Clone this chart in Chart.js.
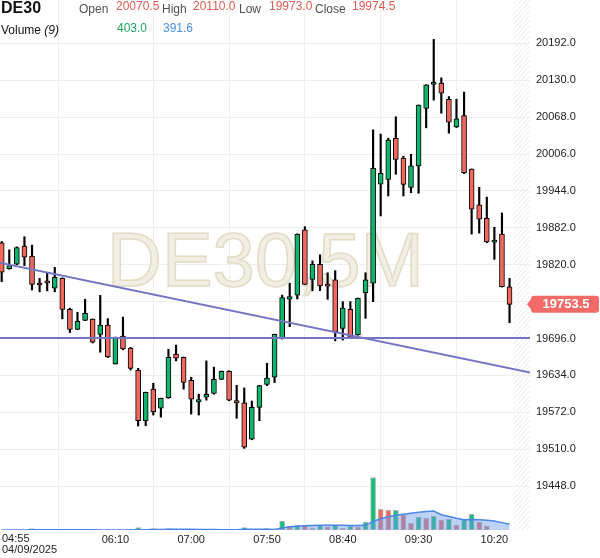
<!DOCTYPE html>
<html><head><meta charset="utf-8">
<script src="https://cdn.jsdelivr.net/npm/chart.js@4.4.1/dist/chart.umd.min.js"></script>
<style>
html,body{margin:0;padding:0;background:#fff;}
#wrap{position:relative;width:600px;height:558px;overflow:hidden;font-family:"Liberation Sans",Arial,sans-serif;}
#c{position:absolute;left:0;top:0;}
.t{position:absolute;white-space:nowrap;font-size:12px;line-height:12px;}
.lbl{color:#505050;top:2.5px;}
.val{top:0px;}
.up{color:#dd5a52;}
</style></head><body>
<div id="wrap">
<canvas id="c" width="600" height="558"></canvas>
<div class="t" style="left:1px;top:-0.5px;font-size:16px;line-height:16px;font-weight:bold;color:#111">DE30</div>
<div class="t lbl" style="left:79px">Open</div>
<div class="t val up" style="left:116px">20070.5</div>
<div class="t lbl" style="left:162px">High</div>
<div class="t val up" style="left:193px">20110.0</div>
<div class="t lbl" style="left:239px">Low</div>
<div class="t val up" style="left:269px">19973.0</div>
<div class="t lbl" style="left:315px">Close</div>
<div class="t val up" style="left:352px">19974.5</div>
<div class="t" style="left:1px;top:24px;color:#111">Volume <i>(9)</i></div>
<div class="t" style="left:117px;top:21.5px;color:#22a35a">403.0</div>
<div class="t" style="left:163px;top:21.5px;color:#4b8fe3">391.6</div>
</div>
<script>
// ---------- data ----------
const times = ['04:55','05:00','05:05','05:10','05:15','05:20','05:25','05:30','05:35','05:40','05:45','05:50','05:55',
 '06:00','06:05','06:10','06:15','06:20','06:25','06:30','06:35','06:40','06:45','06:50','06:55',
 '07:00','07:05','07:10','07:15','07:20','07:25','07:30','07:35','07:40','07:45','07:50','07:55',
 '08:00','08:05','08:10','08:15','08:20','08:25','08:30','08:35','08:40','08:45','08:50','08:55',
 '09:00','09:05','09:10','09:15','09:20','09:25','09:30','09:35','09:40','09:45','09:50','09:55',
 '10:00','10:05','10:10','10:15','10:20','10:25','10:30'];
const opens = [19857,19813.5,19821,19851.5,19834.5,19787,19790,19780.5,19797,19745,
 19711.5,19726.5,19728.5,19703,19718.5,19653.5,19700,19680,19643,19558,
 19611,19579,19596.5,19670,19664.5,19626,19589.5,19597.5,19604,19627.5,
 19641,19592,19588,19527,19580.5,19619,19631,19696.5,19762,19769,
 19878.5,19795.5,19820.5,19784.5,19794.5,19713,19745,19702,19773,19789,
 19955.5,19963.5,20032.5,19999,19950,19986,20082.5,20123,20125,20098,
 20051.5,20070.5,19980.5,19920.5,19898,19858,19871.5,19783];
const highs = [19859,19845,19850,19867,19853,19797,19805.5,19815.5,19798,19747,
 19740,19762,19729,19768.5,19729.5,19698.5,19732,19681,19646,19606,
 19621,19596,19678,19685,19665,19631,19602.5,19658.5,19648,19641.5,
 19642,19617.5,19613,19591,19617.5,19654.5,19703.5,19769,19789,19872,
 19884,19826.5,19836.5,19806.5,19810,19758,19758,19764,19806.5,20046.5,
 20039.5,20032.5,20068.5,20002.5,20005.5,20088.5,20122.5,20198.5,20134,20102.5,
 20098,20110,19981,19950,19933.5,19883,19907,19797];
const lows = [19791.5,19812.5,19820,19818.5,19777.5,19774.5,19776,19774.5,19729,19706,
 19711,19726,19688.5,19673,19664,19653,19677,19643,19549,19549.5,
 19567.5,19564,19595.5,19658.5,19611,19569,19567.5,19592.5,19602.5,19627,
 19591.5,19562,19511.5,19526,19558,19617,19622,19695,19716,19762.5,
 19786.5,19776,19776.5,19762,19692,19693.5,19696.5,19701.5,19730,19758,
 19902,19935.5,19972,19935.5,19941,19940,20050,20096.5,20074.5,20041,
 20050.5,19973,19871.5,19873,19857,19829,19782.5,19722.5];
const closes = [19807.5,19818.5,19849,19832.5,19787,19786,19789.5,19799,19745,19711.5,
 19725,19738.5,19690,19718.5,19665,19698,19678.5,19646,19558,19605.5,
 19573,19595.5,19664.5,19663,19622.5,19594,19593.5,19602.5,19627.5,19641,
 19592.5,19588,19513.5,19580.5,19617,19629.5,19703,19765,19766.5,19871,
 19787,19820.5,19784.5,19784,19707.5,19747,19698,19763.5,19794.5,19982,
 19973.5,20029.5,19997,19955,19986,20088,20122,20126.5,20108,20059.5,
 20065,19974.5,19913.5,19896.5,19858.5,19858,19783,19753.5];
const volumes = [0,0,0,0,50,0,0,0,0,0,
 0,0,0,0,0,0,0,38,88,0,
 50,0,50,0,0,0,0,0,0,0,
 38,0,88,0,0,57,0,342,152,190,
 182,76,190,125,190,68,141,114,304,1995,
 787,749,752,570,266,494,445,521,380,407,
 190,403,597,304,152,0,0,0];
const volumeMA = [0,0,0,0,6,6,6,6,6,6,
 6,6,6,0,0,0,0,4,14,14,
 20,20,25,25,25,25,21,15,15,10,
 14,14,24,24,24,24,20,80,120,145,
 160,168,178,178,180,176,175,170,178,330,
 430,505,560,598,635,672,703,722,580,512,
 445,391.6,400,392,370,340,280,222];
const priceTicks = [20192,20130,20068,20006,19944,19882,19820,19758,19696,19634,19572,19510,19448];
const xTickLabels = ['06:10','07:00','07:50','08:40','09:30','10:20'];
const sessionDate = '04/09/2025';
const levelLine = [{t:-1, v:19697},{t:70, v:19697}];
const trendLine = [{t:-1, v:19825.4},{t:70, v:19638.3}];
const watermarkText = 'DE30,5M';

// ---------- styles ----------
const GREEN = '#0fb46d', RED = '#f0675e';
const VGREEN = '#12c07a', VRED = '#f2685f';
const FONT = '"Liberation Sans", Arial, sans-serif';

const idx = times.map((_, i) => i);
const bodyData = idx.map(i => ({x: i, y: [opens[i], closes[i]]}));
const wickData = idx.map(i => ({x: i, y: [lows[i], highs[i]]}));
const volData = idx.map(i => ({x: i, y: volumes[i]}));
const maData = idx.map(i => ({x: i, y: volumeMA[i]}));
const xTickIdx = [0].concat(xTickLabels.map(l => times.indexOf(l)));

const noPad = s => { s.paddingTop = 0; s.paddingBottom = 0; s.paddingLeft = 0; s.paddingRight = 0; };

const bgPlugin = {
  id: 'bg',
  beforeDraw(chart) {
    const c = chart.ctx; c.save(); c.fillStyle = '#fff'; c.fillRect(0, 0, chart.width, chart.height); c.restore();
  },
  beforeDatasetsDraw(chart) {
    const c = chart.ctx, a = chart.chartArea, xs = chart.scales.x;
    // watermark
    c.save();
    c.font = '76px ' + FONT;
    c.textAlign = 'left'; c.textBaseline = 'alphabetic';
    c.fillStyle = '#f2eee3';
    c.strokeStyle = '#e2dbc6'; c.lineWidth = 1.5;
    c.fillText(watermarkText, 107, 286);
    c.strokeText(watermarkText, 107, 286);
    c.restore();
    // hatched future zone
    const hx = xs.getPixelForValue(times.length - 0.5);
    c.save();
    c.beginPath(); c.rect(hx, a.top, a.right - hx, a.bottom - a.top); c.clip();
    c.strokeStyle = '#ebebeb'; c.lineWidth = 1;
    for (let y = a.top - 40; y < a.bottom + 40; y += 5) {
      c.beginPath(); c.moveTo(hx - 5, y + 30); c.lineTo(a.right + 5, y); c.stroke();
    }
    c.restore();
  },
  afterDraw(chart) {
    const c = chart.ctx, ys = chart.scales.y, a = chart.chartArea;
    // first time label with date
    c.save();
    c.font = '11px ' + FONT; c.fillStyle = '#222'; c.textAlign = 'left'; c.textBaseline = 'middle';
    c.fillText(times[0], a.left + 2, 539);
    c.fillText(sessionDate, a.left + 2, 550);
    c.restore();
    // last price tag
    const last = closes[closes.length - 1];
    const py = ys.getPixelForValue(last);
    const x0 = a.right + 1, x1 = chart.width - 1, h = 17, r = 3;
    c.save();
    c.fillStyle = '#f26b66';
    c.beginPath();
    c.moveTo(x0 - 4, py);
    c.lineTo(x0, py - 5);
    c.lineTo(x0, py - h/2 + r);
    c.arcTo(x0, py - h/2, x0 + r, py - h/2, r);
    c.lineTo(x1 - r, py - h/2);
    c.arcTo(x1, py - h/2, x1, py - h/2 + r, r);
    c.lineTo(x1, py + h/2 - r);
    c.arcTo(x1, py + h/2, x1 - r, py + h/2, r);
    c.lineTo(x0 + r, py + h/2);
    c.arcTo(x0, py + h/2, x0, py + h/2 - r, r);
    c.lineTo(x0, py + 5);
    c.closePath(); c.fill();
    c.fillStyle = '#fff'; c.font = 'bold 13px ' + FONT; c.textAlign = 'center'; c.textBaseline = 'middle';
    c.fillText(last.toFixed(1), (x0 + x1) / 2 + 1, py + 0.5);
    c.restore();
  }
};

new Chart(document.getElementById('c'), {
  data: {
    datasets: [
      { type: 'line', label: 'level', data: levelLine.map(p => ({x: p.t, y: p.v})), yAxisID: 'y',
        borderColor: '#7575c6', borderWidth: 2, pointRadius: 0, order: 0, clip: 0 },
      { type: 'line', label: 'trend', data: trendLine.map(p => ({x: p.t, y: p.v})), yAxisID: 'y',
        borderColor: '#7575c6', borderWidth: 2, pointRadius: 0, order: 0, clip: 0 },
      { type: 'bar', label: 'body', data: bodyData, yAxisID: 'y', grouped: false, barThickness: 5,
        minBarLength: 2, borderWidth: 1, borderColor: '#000', borderSkipped: false,
        backgroundColor: idx.map(i => closes[i] >= opens[i] ? GREEN : RED), order: 1 },
      { type: 'bar', label: 'wick', data: wickData, yAxisID: 'y', grouped: false, barThickness: 1.5,
        backgroundColor: '#000', borderWidth: 0, order: 2 },
      { type: 'line', label: 'volMA', data: maData, yAxisID: 'yv', borderColor: '#4a86e8', borderWidth: 1.5,
        backgroundColor: 'rgba(110,155,235,0.45)', fill: 'origin', pointRadius: 0, tension: 0, order: 3 },
      { type: 'bar', label: 'volume', data: volData, yAxisID: 'yv', grouped: false, barThickness: 5,
        borderWidth: 1, borderColor: '#b4b4b4', borderSkipped: false,
        backgroundColor: idx.map(i => (i === 0 || volumes[i] >= volumes[i-1]) ? VGREEN : VRED), order: 4 }
    ]
  },
  options: {
    responsive: false, animation: false, devicePixelRatio: 1, events: [],
    layout: { padding: 0 },
    plugins: { legend: { display: false }, tooltip: { enabled: false } },
    scales: {
      x: {
        type: 'linear', min: -0.224, max: 69.7, offset: false,
        afterBuildTicks: s => { s.ticks = xTickIdx.map(v => ({value: v})); },
        afterFit: s => { s.height = 28; noPad(s); },
        ticks: { autoSkip: false, maxRotation: 0, padding: 3, color: '#222',
          font: { family: FONT, size: 11 },
          callback: v => (v === 0 ? '' : times[v]) },
        grid: { color: '#eeeeee', drawTicks: false, lineWidth: 1 },
        border: { display: false }
      },
      y: {
        type: 'linear', position: 'right', min: 19374.4, max: 20264.7,
        afterBuildTicks: s => { s.ticks = priceTicks.map(v => ({value: v})); },
        afterFit: s => { s.width = 70; noPad(s); },
        ticks: { padding: 6, color: '#222', font: { family: FONT, size: 11 },
          callback: v => Number(v).toFixed(1) },
        grid: { color: '#eeeeee', drawTicks: false, lineWidth: 1 },
        border: { display: false }
      },
      yv: {
        type: 'linear', display: false, min: 0, max: 20140,
        afterFit: s => { noPad(s); }
      }
    }
  },
  plugins: [bgPlugin]
});
</script>
</body></html>
